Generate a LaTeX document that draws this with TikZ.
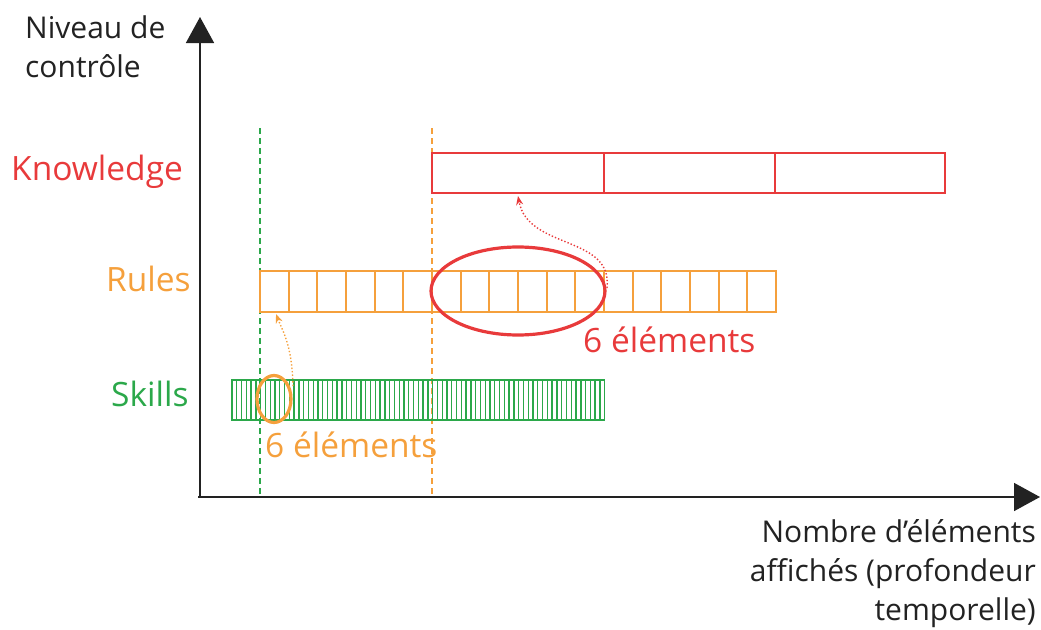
\documentclass[tikz,border=0pt]{standalone}
\usepackage{fontspec}
\setmainfont{Open Sans}
\usetikzlibrary{arrows.meta,shapes.geometric}
\definecolor{cred}{HTML}{E83A3B}
\definecolor{corange}{HTML}{F5A03C}
\definecolor{cgreen}{HTML}{2BA84A}
\definecolor{cdark}{HTML}{222222}
\begin{document}
\begin{tikzpicture}[x=1pt,y=-1pt,
  axis/.style={draw=cdark, line width=1.6pt, -{Triangle[length=26pt,width=28pt]}},
  guide/.style={line width=1.6pt, dash pattern=on 6pt off 4pt},
  lbl/.style={font=\fontsize{33.5}{40}\selectfont, inner sep=0pt, anchor=base west},
  note/.style={font=\fontsize{30}{39}\selectfont, inner sep=0pt, text=cdark},
  ring/.style={draw, ellipse, line width=3.2pt, inner sep=0pt},
  link/.style={line width=1.4pt, dotted, -{Stealth[length=9pt,width=7pt]}}
]
\useasboundingbox (0,0) rectangle (1041,629);
% axes
\coordinate (orig) at (200,498);
\coordinate (origx) at (198,497);
\coordinate (ytop) at (200,17);
\coordinate (xend) at (1040,497);
\draw[axis] (orig) -- (ytop);
\draw[axis] (origx) -- (xend);
% guides
\coordinate (g1t) at (260,128); \coordinate (g1b) at (260,497);
\coordinate (g2t) at (432,128); \coordinate (g2b) at (432,497);
\draw[guide, draw=cgreen] (g1t) -- (g1b);
\draw[guide, draw=corange] (g2t) -- (g2b);
% knowledge
\draw[cred, line width=1.7pt] (432,153) rectangle (945,193);
\draw[cred, line width=1.7pt] (604,153) -- (604,193) (775,153) -- (775,193);
% rules
\draw[corange, line width=2.2pt] (260,271) rectangle (776,312);
\foreach \i in {1,...,17} \draw[corange, line width=2.2pt] ({260+\i*28.667},271) -- ++(0,41);
% skills
\draw[cgreen, line width=1.5pt] (232,380) rectangle (604.7,420);
\foreach \i in {1,...,77} \draw[cgreen, line width=1.4pt] ({232+\i*4.778},380) -- ++(0,40);
% ellipses
\node[ring, draw=cred, minimum width=174pt, minimum height=88pt] (redell) at (518,291) {};
\node[ring, draw=corange, minimum width=34pt, minimum height=47pt] (orell) at (274,399) {};
% arrows
\coordinate (ra) at (607,288); \coordinate (rb) at (518,196);
\draw[link, draw=cred] (ra) .. controls (613,235) and (528,250) .. (rb);
\coordinate (oa) at (293,386); \coordinate (ob) at (276,314);
\draw[link, draw=corange] (oa) .. controls (292,345) and (283,332) .. (ob);
% labels
\node[lbl, text=cred] (kn) at (11,180) {Knowledge};
\node[lbl, text=corange] (ru) at (106,291) {Rules};
\node[lbl, text=cgreen] (sk) at (111,406) {Skills};
\node[lbl, text=cred] (n6r) at (583,352) {6 éléments};
\node[lbl, text=corange] (n6o) at (265,457) {6 éléments};
\node[note, anchor=base west, align=left] (ylab) at (25,77) {Niveau de\\contrôle};
\node[note, anchor=base east, align=right] (xlab) at (1036,620) {Nombre d’éléments\\affichés (profondeur \\temporelle)};
\end{tikzpicture}
\end{document}
